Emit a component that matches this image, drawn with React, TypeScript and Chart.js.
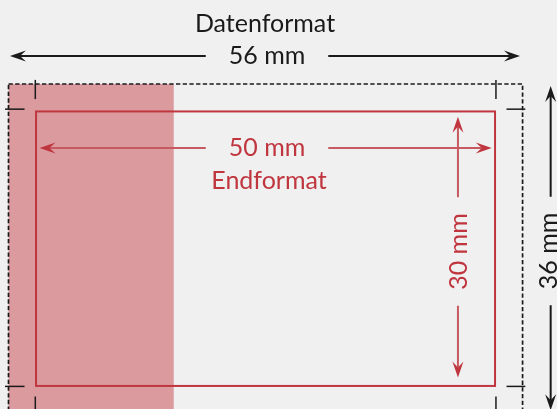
import { useEffect, useRef } from "react";
import { Chart, registerables } from "chart.js";

Chart.register(...registerables);

// ---- data (mm) ----
const formatNames = ["Datenformat", "Endformat"];
const formatWidthsMm = [56, 50];
const formatHeightsMm = [36, 30];
const formatOffsetsMm = [0, 3];
const stripWidthMm = [18];
const dimensionLabels = ["56 mm", "50 mm", "30 mm", "36 mm"];

// ---- styles ----
const BG = "#f0f0f0";
const RED = "#c0363f";
const RED_LINE = "#c75960";
const PINK = "#db9a9e";
const BLACK = "#1a1a1a";
const FONT = "25px Lato, 'DejaVu Sans', sans-serif";

type Ctx = CanvasRenderingContext2D;

function arrowHead(ctx: Ctx, tx: number, ty: number, dx: number, dy: number, color: string) {
  // stealth arrow pointing in direction (dx, dy)
  const len = 16;
  const half = 5.5;
  const notch = 10;
  const px = -dy;
  const py = dx;
  ctx.save();
  ctx.fillStyle = color;
  ctx.beginPath();
  ctx.moveTo(tx, ty);
  ctx.lineTo(tx - dx * len + px * half, ty - dy * len + py * half);
  ctx.lineTo(tx - dx * notch, ty - dy * notch);
  ctx.lineTo(tx - dx * len - px * half, ty - dy * len - py * half);
  ctx.closePath();
  ctx.fill();
  ctx.restore();
}

const diagramPlugin = {
  id: "diagram",
  beforeDraw(chart: any) {
    const ctx: Ctx = chart.ctx;
    ctx.save();
    ctx.fillStyle = BG;
    ctx.fillRect(0, 0, chart.width, chart.height);
    ctx.restore();
  },
  afterDraw(chart: any) {
    const ctx: Ctx = chart.ctx;
    const xs = chart.scales.x;
    const ys = chart.scales.y;
    const X = (v: number) => xs.getPixelForValue(v);
    const Y = (v: number) => ys.getPixelForValue(v);

    const ow = formatWidthsMm[0];
    const oh = formatHeightsMm[0];
    const oo = formatOffsetsMm[0];
    const iw = formatWidthsMm[1];
    const ih = formatHeightsMm[1];
    const io = formatOffsetsMm[1];

    ctx.save();
    // pink strip
    ctx.fillStyle = PINK;
    ctx.fillRect(X(oo), Y(oo), X(oo + stripWidthMm[0]) - X(oo), Y(oo + oh) - Y(oo));

    // outer dashed format
    ctx.strokeStyle = BLACK;
    ctx.lineWidth = 1.7;
    ctx.setLineDash([4.3, 2.4]);
    ctx.strokeRect(X(oo), Y(oo), X(oo + ow) - X(oo), Y(oo + oh) - Y(oo));
    ctx.setLineDash([]);

    // inner red format
    ctx.strokeStyle = RED;
    ctx.lineWidth = 2;
    ctx.strokeRect(X(io), Y(io), X(io + iw) - X(io), Y(io + ih) - Y(io));

    // crop marks
    ctx.strokeStyle = BLACK;
    ctx.lineWidth = 1.5;
    const seg = (x1: number, y1: number, x2: number, y2: number) => {
      ctx.beginPath();
      ctx.moveTo(X(x1), Y(y1));
      ctx.lineTo(X(x2), Y(y2));
      ctx.stroke();
    };
    const vx = [io - 0.08, io + iw + 0.1];
    const hy = [io - 0.25, io + ih + 0.05];
    // vertical marks at top and bottom
    vx.forEach((x) => {
      seg(x, oo - 0.45, x, oo + 1.65);
      seg(x, oo + oh - 1.85, x, oo + oh + 0.6);
    });
    // horizontal marks at left and right
    hy.forEach((y) => {
      seg(oo - 0.38, y, oo + 1.75, y);
      seg(oo + ow - 1.75, y, oo + ow + 0.3, y);
    });

    // text helpers
    ctx.font = FONT;
    const hGap = 23;
    const vGap = 16;

    const hDim = (y: number, x1: number, x2: number, cx: number, baseY: number, label: string, color: string, lineColor: string) => {
      const w = ctx.measureText(label).width;
      const cxp = X(cx);
      const yp = Y(y);
      ctx.strokeStyle = lineColor;
      ctx.lineWidth = 2;
      ctx.beginPath();
      ctx.moveTo(X(x1) + 10, yp);
      ctx.lineTo(cxp - w / 2 - hGap, yp);
      ctx.moveTo(cxp + w / 2 + hGap, yp);
      ctx.lineTo(X(x2) - 10, yp);
      ctx.stroke();
      arrowHead(ctx, X(x1), yp, -1, 0, color);
      arrowHead(ctx, X(x2), yp, 1, 0, color);
      ctx.fillStyle = color;
      ctx.textAlign = "center";
      ctx.textBaseline = "alphabetic";
      ctx.fillText(label, cxp, Y(baseY));
    };

    const vDim = (x: number, y1: number, y2: number, cy: number, tx: number, label: string, color: string, lineColor: string) => {
      const w = ctx.measureText(label).width;
      const xp = X(x);
      const cyp = Y(cy);
      ctx.strokeStyle = lineColor;
      ctx.lineWidth = 2;
      ctx.beginPath();
      ctx.moveTo(xp, Y(y1) + 10);
      ctx.lineTo(xp, cyp - w / 2 - vGap);
      ctx.moveTo(xp, cyp + w / 2 + vGap);
      ctx.lineTo(xp, Y(y2) - 10);
      ctx.stroke();
      arrowHead(ctx, xp, Y(y1), 0, -1, color);
      arrowHead(ctx, xp, Y(y2), 0, 1, color);
      ctx.save();
      ctx.translate(X(tx), cyp);
      ctx.rotate(-Math.PI / 2);
      ctx.fillStyle = color;
      ctx.textAlign = "center";
      ctx.textBaseline = "alphabetic";
      ctx.fillText(label, 0, 9);
      ctx.restore();
    };

    // Datenformat (outer) width
    ctx.fillStyle = BLACK;
    ctx.textAlign = "center";
    ctx.textBaseline = "alphabetic";
    ctx.fillText(formatNames[0], X(27.94), Y(-5.68));
    hDim(-3.06, 0.16, 55.72, 28.16, -2.19, dimensionLabels[0], BLACK, BLACK);

    // Endformat (inner) width
    hDim(7.0, 3.38, 52.64, 28.16, 7.87, dimensionLabels[1], RED, RED_LINE);
    ctx.fillStyle = RED;
    ctx.textAlign = "center";
    ctx.fillText(formatNames[1], X(28.38), Y(11.48));

    // Endformat height
    vDim(48.96, 3.57, 32.08, 18.31, 48.96, dimensionLabels[2], RED, RED_LINE);

    // Datenformat height
    vDim(59.06, 0.22, 35.65, 18.25, 58.72, dimensionLabels[3], BLACK, BLACK);

    ctx.restore();
  },
};

export default function App() {
  const ref = useRef<HTMLCanvasElement | null>(null);
  useEffect(() => {
    if (!ref.current) return;
    const chart = new Chart(ref.current, {
      type: "scatter",
      data: { datasets: [{ data: [] }] },
      options: {
        animation: false,
        responsive: false,
        devicePixelRatio: window.devicePixelRatio || 1,
        layout: { padding: 0 },
        plugins: { legend: { display: false }, tooltip: { enabled: false } },
        scales: {
          x: { type: "linear", display: false, min: -0.926, max: 59.75 },
          y: { type: "linear", display: false, reverse: true, min: -9.18, max: 35.52 },
        },
      },
      plugins: [diagramPlugin],
    });
    return () => chart.destroy();
  }, []);
  return (
    <div style={{ position: "fixed", left: 0, top: 0, width: 557, height: 409, background: BG }}>
      <canvas ref={ref} width={557} height={409} style={{ width: 557, height: 409 }} />
    </div>
  );
}
